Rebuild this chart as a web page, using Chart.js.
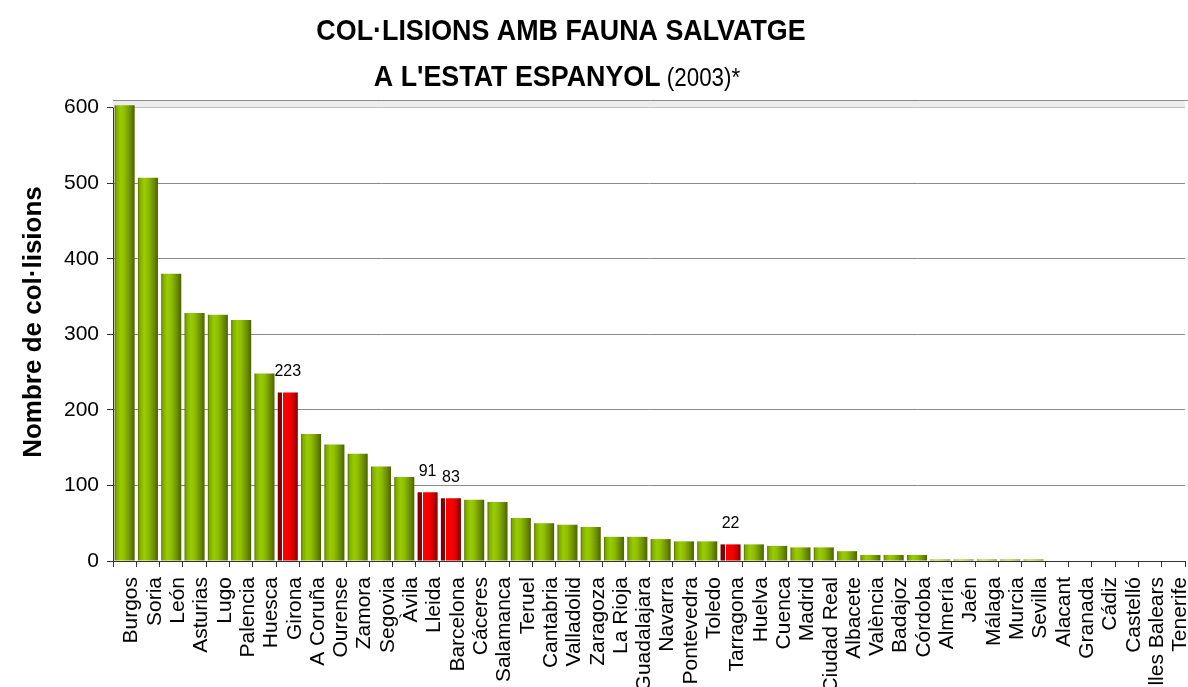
<!DOCTYPE html>
<html>
<head>
<meta charset="utf-8">
<script src="https://cdn.jsdelivr.net/npm/chart.js@4/dist/chart.umd.min.js"></script>
<style>
  html, body { margin: 0; padding: 0; background: #fff; overflow: hidden; }
  #wrap { width: 1188px; height: 687px; position: relative; }
</style>
</head>
<body>
<div id="wrap"><canvas id="chart"></canvas></div>
<script>
// Provinces, ordered by number of wildlife collisions (2003)
const provinces = [
  'Burgos', 'Soria', 'León', 'Asturias', 'Lugo', 'Palencia', 'Huesca', 'Girona',
  'A Coruña', 'Ourense', 'Zamora', 'Segovia', 'Àvila', 'Lleida', 'Barcelona',
  'Cáceres', 'Salamanca', 'Teruel', 'Cantabria', 'Valladolid', 'Zaragoza',
  'La Rioja', 'Guadalajara', 'Navarra', 'Pontevedra', 'Toledo', 'Tarragona',
  'Huelva', 'Cuenca', 'Madrid', 'Ciudad Real', 'Albacete', 'València', 'Badajoz',
  'Córdoba', 'Almería', 'Jaén', 'Málaga', 'Murcia', 'Sevilla', 'Alacant',
  'Granada', 'Cádiz', 'Castelló', 'Illes Balears', 'Tenerife'
];

const collisions = [
  603, 507, 380, 328, 326, 319, 248, 223,
  168, 154, 142, 125, 111, 91, 83,
  81, 78, 57, 50, 48, 45,
  32, 32, 29, 26, 26, 22,
  22, 20, 18, 18, 13, 8, 8,
  8, 2, 2, 2, 2, 2, 0,
  0, 0, 0, 0, 0
];

// Catalan provinces: drawn in red, with their value written above
const catalanProvinces = ['Girona', 'Lleida', 'Barcelona', 'Tarragona'];

const yTickValues = [0, 100, 200, 300, 400, 500, 600];

const titleLine1 = 'COL·LISIONS AMB FAUNA SALVATGE';
const titleLine2Bold = "A L'ESTAT ESPANYOL";
const titleLine2Regular = ' (2003)*';
const yAxisTitle = 'Nombre de col·lisions';

const FONT = '"Liberation Sans", Arial, Helvetica, sans-serif';
const BAR_PCT = 0.86;

function barGradient(ctx) {
  const chart = ctx.chart;
  const area = chart.chartArea;
  const name = provinces[ctx.dataIndex];
  const red = catalanProvinces.includes(name);
  if (!area) return red ? '#ee0000' : '#88b400';
  const xs = chart.scales.x;
  const cx = xs.getPixelForValue(ctx.dataIndex);
  const w = (xs.width / provinces.length) * BAR_PCT;
  const g = chart.ctx.createLinearGradient(cx - w / 2, 0, cx + w / 2, 0);
  if (red) {
    g.addColorStop(0, '#7a0000');
    g.addColorStop(0.2, '#900000');
    g.addColorStop(0.2, '#ffffff');
    g.addColorStop(0.26, '#ffffff');
    g.addColorStop(0.26, '#ff0000');
    g.addColorStop(0.6, '#f40000');
    g.addColorStop(0.8, '#c80000');
    g.addColorStop(1, '#7a0000');
  } else {
    g.addColorStop(0, '#4e6a00');
    g.addColorStop(0.08, '#7fa800');
    g.addColorStop(0.3, '#99cc00');
    g.addColorStop(0.5, '#8fbe00');
    g.addColorStop(0.8, '#6a8c00');
    g.addColorStop(1, '#4a6200');
  }
  return g;
}

// Titles, plot frame and value labels
const decorations = {
  id: 'decorations',
  beforeDatasetsDraw(chart) {
    const { ctx, chartArea } = chart;
    ctx.save();
    ctx.fillStyle = '#ececec';
    const y600 = chart.scales.y.getPixelForValue(600);
    ctx.fillRect(chartArea.left, chartArea.top, chartArea.right - chartArea.left, y600 - chartArea.top);
    ctx.strokeStyle = '#8c8c8c';
    ctx.lineWidth = 1;
    ctx.beginPath();
    ctx.moveTo(chartArea.left, chartArea.top + 0.5);
    ctx.lineTo(chartArea.right + 3, chartArea.top + 0.5);
    ctx.stroke();
    ctx.restore();
  },
  afterDatasetsDraw(chart) {
    const { ctx } = chart;
    const meta = chart.getDatasetMeta(0);
    ctx.save();
    ctx.fillStyle = '#000';
    ctx.font = '16px ' + FONT;
    ctx.textAlign = 'center';
    ctx.textBaseline = 'middle';
    provinces.forEach((name, i) => {
      if (!catalanProvinces.includes(name)) return;
      const bar = meta.data[i];
      ctx.fillText(String(collisions[i]), bar.x, bar.y - 20.5);
    });
    ctx.restore();
  },
  afterDraw(chart) {
    const { ctx } = chart;
    const sx = 0.895;
    ctx.save();
    ctx.fillStyle = '#000';
    ctx.textBaseline = 'alphabetic';
    // first title line
    ctx.font = 'bold 30px ' + FONT;
    ctx.textAlign = 'center';
    ctx.save();
    ctx.translate(561, 40);
    ctx.scale(sx, 1);
    ctx.fillText(titleLine1, 0, 0);
    ctx.restore();
    // second title line: bold part followed by regular part
    ctx.textAlign = 'left';
    ctx.font = 'bold 30px ' + FONT;
    const wb = ctx.measureText(titleLine2Bold).width;
    ctx.font = '25px ' + FONT;
    const wr = ctx.measureText(titleLine2Regular).width;
    const total = (wb + wr) * sx;
    ctx.save();
    ctx.translate(557 - total / 2, 86);
    ctx.scale(sx, 1);
    ctx.font = 'bold 30px ' + FONT;
    ctx.fillText(titleLine2Bold, 0, 0);
    ctx.font = '25px ' + FONT;
    ctx.fillText(titleLine2Regular, wb, 0);
    ctx.restore();
    // y axis title
    ctx.save();
    ctx.translate(41, 322);
    ctx.rotate(-Math.PI / 2);
    ctx.font = 'bold 26px ' + FONT;
    ctx.textAlign = 'center';
    ctx.fillText(yAxisTitle, 0, 0);
    ctx.restore();
    ctx.restore();
  }
};

new Chart(document.getElementById('chart'), {
  type: 'bar',
  data: {
    labels: provinces,
    datasets: [{
      data: collisions,
      backgroundColor: barGradient,
      borderWidth: 0,
      barPercentage: BAR_PCT,
      categoryPercentage: 1
    }]
  },
  options: {
    responsive: true,
    maintainAspectRatio: false,
    animation: false,
    layout: { padding: { top: 100, right: 3, left: 0, bottom: 0 } },
    plugins: {
      legend: { display: false },
      title: { display: false },
      tooltip: { enabled: false }
    },
    scales: {
      x: {
        type: 'category',
        offset: true,
        grid: {
          offset: true,
          drawOnChartArea: false,
          tickLength: 6,
          color: '#333',
          tickColor: '#333'
        },
        border: { color: '#333', width: 1 },
        ticks: {
          autoSkip: false,
          minRotation: 90,
          maxRotation: 90,
          padding: 10,
          labelOffset: 7,
          color: '#000',
          font: { family: FONT, size: 21 }
        },
        afterFit(scale) {
          scale.height = 126;
          scale.paddingLeft = 0;
          scale.paddingRight = 0;
        }
      },
      y: {
        min: 0,
        max: 610,
        grid: {
          color: '#8a8a8a',
          tickLength: 6,
          tickColor: '#333'
        },
        border: { color: '#333', width: 1 },
        ticks: {
          stepSize: 100,
          padding: 8,
          color: '#000',
          font: { family: FONT, size: 21 }
        },
        afterBuildTicks(scale) {
          scale.ticks = yTickValues.map(v => ({ value: v }));
        },
        afterFit(scale) {
          scale.width = 113;
          scale.paddingTop = 0;
          scale.paddingBottom = 0;
        }
      }
    }
  },
  plugins: [decorations]
});
</script>
</body>
</html>
